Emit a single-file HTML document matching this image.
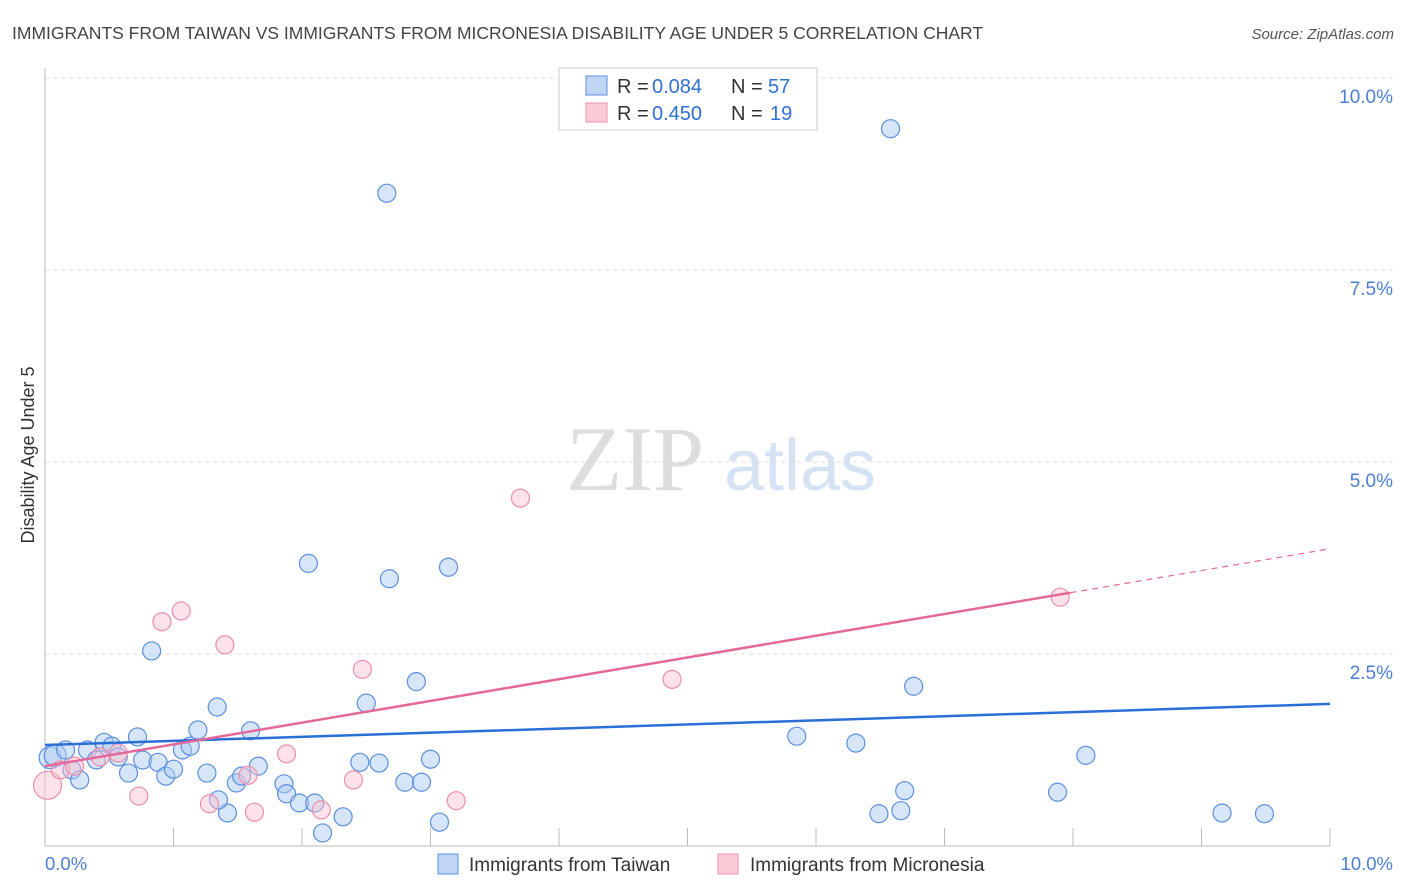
<!DOCTYPE html>
<html><head><meta charset="utf-8"><style>
body{margin:0;background:#fff;font-family:"Liberation Sans",sans-serif;}
svg{display:block}
</style></head><body>
<svg id="chart" width="1406" height="892" xmlns="http://www.w3.org/2000/svg">
<text x="12" y="39" font-size="17.5" fill="#444">IMMIGRANTS FROM TAIWAN VS IMMIGRANTS FROM MICRONESIA DISABILITY AGE UNDER 5 CORRELATION CHART</text>
<text x="1394" y="39" font-size="15" fill="#555" font-style="italic" text-anchor="end">Source: ZipAtlas.com</text>
<g>
<text x="635" y="490" font-size="92" fill="#ddd" font-family="Liberation Serif,serif" text-anchor="middle">ZIP</text>
<text x="800" y="490" font-size="72" fill="#d5e3f5" text-anchor="middle">atlas</text>
</g>
<g id="grid"></g>
<g id="axes"></g>
<g id="marks"></g>
<text transform="translate(34,455) rotate(-90)" font-size="18" fill="#333" text-anchor="middle">Disability Age Under 5</text>
<g>
<rect x="559" y="68" width="258" height="62" fill="#fff" stroke="#ccc"/>
<rect x="586" y="76" width="21" height="19" fill="#c0d6f5" stroke="#5b8fe0"/>
<rect x="586" y="103" width="21" height="19" fill="#fbccd8" stroke="#ec8fac"/>
<g font-size="20" fill="#333">
<text x="617" y="93">R =</text><text x="652" y="93" fill="#2f6fd6">0.084</text><text x="731" y="93">N =</text><text x="768" y="93" fill="#2f6fd6">57</text>
</g>
<g font-size="20" fill="#333">
<text x="617" y="120">R =</text><text x="652" y="120" fill="#2f6fd6">0.450</text><text x="731" y="120">N =</text><text x="770" y="120" fill="#2f6fd6">19</text>
</g>
</g>
<g>
<rect x="438" y="854" width="20" height="20" fill="#c0d6f5" stroke="#5b8fe0"/>
<text x="469" y="871" font-size="19" fill="#333">Immigrants from Taiwan</text>
<rect x="718" y="854" width="20" height="20" fill="#fbccd8" stroke="#ec8fac"/>
<text x="750" y="871" font-size="19" fill="#333">Immigrants from Micronesia</text>
</g>
</svg>
<script>
const yTicks=[2.5,5.0,7.5,10.0];
const yTickLabels=["2.5%","5.0%","7.5%","10.0%"];
const xTickLabels=["0.0%","10.0%"];
const taiwanX=[0.04,0.08,0.16,0.21,0.27,0.33,0.40,0.46,0.52,0.57,0.65,0.72,0.76,0.83,0.88,0.94,1.00,1.07,1.13,1.19,1.26,1.34,1.42,1.49,1.35,1.53,1.60,1.66,1.86,1.88,1.98,2.05,2.10,2.16,2.32,2.45,2.50,2.60,2.66,2.68,2.80,2.89,2.93,3.00,3.07,3.14,5.85,6.31,6.49,6.58,6.66,6.69,6.76,7.88,8.10,9.16,9.49];
const taiwanY=[1.15,1.18,1.25,0.99,0.86,1.25,1.12,1.35,1.30,1.16,0.95,1.42,1.12,2.54,1.09,0.91,1.00,1.25,1.30,1.51,0.95,1.81,0.43,0.82,0.60,0.91,1.50,1.04,0.81,0.68,0.56,3.68,0.56,0.17,0.38,1.09,1.86,1.08,8.50,3.48,0.83,2.14,0.83,1.13,0.31,3.63,1.43,1.34,0.42,9.34,0.46,0.72,2.08,0.70,1.18,0.43,0.42];
const micronesiaX=[0.02,0.12,0.23,0.43,0.57,0.73,0.91,1.06,1.28,1.40,1.58,1.63,1.88,2.15,2.40,2.47,3.20,3.70,4.88,7.90];
const micronesiaY=[0.79,0.99,1.04,1.16,1.21,0.65,2.92,3.06,0.55,2.62,0.92,0.44,1.20,0.47,0.86,2.30,0.59,4.53,2.17,3.24];
const taiwanTrend=[1.315,1.85];
const micronesiaTrend=[1.04,3.87];
const NS="http://www.w3.org/2000/svg";
const X0=45,X1=1330,Y0=846,Y1=78;
const sx=v=>X0+(X1-X0)*v/10, sy=v=>Y0-(Y0-Y1)*v/10;
function mk(tag,attrs,parent){const e=document.createElementNS(NS,tag);for(const k in attrs)e.setAttribute(k,attrs[k]);parent.appendChild(e);return e;}
const grid=document.getElementById('grid'),axes=document.getElementById('axes'),marks=document.getElementById('marks');
yTicks.forEach((t,i)=>{
 const l=mk('line',{x1:X0,x2:1394,y1:sy(t),y2:sy(t),stroke:'#ddd','stroke-dasharray':'4,4'},grid);
 
 
 const tx=mk('text',{x:1393,y:sy(t)+25,'font-size':19,fill:'#4a7fd4','text-anchor':'end'},axes);
 tx.textContent=yTickLabels[i];
 
 
});
const la=mk('line',{x1:X0,x2:X0,y1:68,y2:Y0,stroke:'#bbb'},axes);


const lb=mk('line',{x1:X0,x2:X1,y1:Y0,y2:Y0,stroke:'#bbb'},axes);


for(let i=1;i<=10;i++){
 const t=mk('line',{x1:sx(i),x2:sx(i),y1:828,y2:Y0,stroke:'#bbb'},axes);
 
 
}
const xl0=mk('text',{x:45,y:870,'font-size':18.5,fill:'#4a7fd4'},axes);xl0.textContent=xTickLabels[0];


const xl1=mk('text',{x:1393,y:870,'font-size':18.5,fill:'#4a7fd4','text-anchor':'end'},axes);xl1.textContent=xTickLabels[1];


taiwanX.forEach((x,i)=>{
 const c=mk('circle',{cx:sx(x),cy:sy(taiwanY[i]),r:i<2?11:9,fill:'rgba(176,204,242,0.5)',stroke:'#5b8fe0','stroke-width':1.2},marks);
 
 
});
micronesiaX.forEach((x,i)=>{
 const c=mk('circle',{cx:sx(x),cy:sy(micronesiaY[i]),r:i===0?14:9,fill:'rgba(250,190,206,0.45)',stroke:'#ec8fac','stroke-width':1.2},marks);
 
 
});
const tl=mk('line',{x1:sx(0),y1:sy(taiwanTrend[0]),x2:sx(10),y2:sy(taiwanTrend[1]),stroke:'#2b6ed6','stroke-width':2.5},marks);


const mEnd=7.98, mY=micronesiaTrend[0]+(micronesiaTrend[1]-micronesiaTrend[0])*mEnd/10;
const ml=mk('line',{x1:sx(0),y1:sy(micronesiaTrend[0]),x2:sx(mEnd),y2:sy(mY),stroke:'#e5689a','stroke-width':2.5},marks);


const md=mk('line',{x1:sx(mEnd),y1:sy(mY),x2:sx(10),y2:sy(micronesiaTrend[1]),stroke:'#e5689a','stroke-width':1.2,'stroke-dasharray':'6,5'},marks);


</script>
</body></html>
